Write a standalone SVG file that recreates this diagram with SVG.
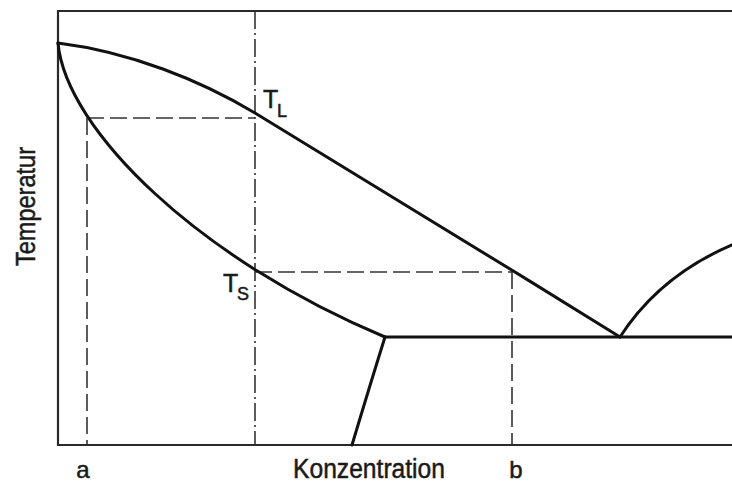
<svg xmlns="http://www.w3.org/2000/svg" width="732" height="484" viewBox="0 0 732 484">
<style>
.frame{fill:none;stroke:#2a2a2a;stroke-width:2.2}
.curve{fill:none;stroke:#111;stroke-width:3;stroke-linejoin:round;stroke-linecap:round}
.dash{fill:none;stroke:#333;stroke-width:1.6;stroke-dasharray:17 6}
.dashdot{fill:none;stroke:#333;stroke-width:1.6;stroke-dasharray:18 4 2 4}
.lbl{font-family:"Liberation Sans",Arial,sans-serif;fill:#1a1a1a;stroke:#1a1a1a;stroke-width:0.5}
</style>
<rect width="732" height="484" fill="#fff"/>
<g id="frame">
<path class="frame" d="M734,11 H58 V445 H734"/>
</g>
<g id="connectors">
<path class="dashdot" d="M255,11 V445"/>
<path class="dash" d="M87,118 H255"/>
<path class="dash" d="M87,118 V445"/>
<path class="dash" d="M255,272 H512"/>
<path class="dash" d="M512,272 V445"/>
</g>
<g id="liquidus">
<path class="curve" d="M58,43 C130,52 200,80 255,113 S480,250 620,337"/>
</g>
<g id="solidus">
<path class="curve" d="M58,43 C66,130 200,260 385,337"/>
</g>
<g id="solvus">
<path class="curve" d="M385,337 Q370,385 352,445"/>
</g>
<g id="eutectic">
<path class="curve" d="M385,337 H734"/>
</g>
<g id="liquidus-right">
<path class="curve" d="M620,337 Q660,275 734,244"/>
</g>
<g id="label-TL">
<text class="lbl" x="263" y="108" font-size="25">T</text>
<text class="lbl" x="277" y="117" font-size="18">L</text>
</g>
<g id="label-TS">
<text class="lbl" x="223" y="292" font-size="25">T</text>
<text class="lbl" x="237" y="300" font-size="18">S</text>
</g>
<g id="axis-labels">
<text class="lbl" x="83" y="478" font-size="24" text-anchor="middle">a</text>
<text class="lbl" x="293" y="478" font-size="27" textLength="152" lengthAdjust="spacingAndGlyphs">Konzentration</text>
<text class="lbl" x="516" y="478" font-size="24" text-anchor="middle">b</text>
<text class="lbl" x="0" y="0" font-size="27" textLength="119" lengthAdjust="spacingAndGlyphs" transform="translate(35,266) rotate(-90)">Temperatur</text>
</g>
</svg>
